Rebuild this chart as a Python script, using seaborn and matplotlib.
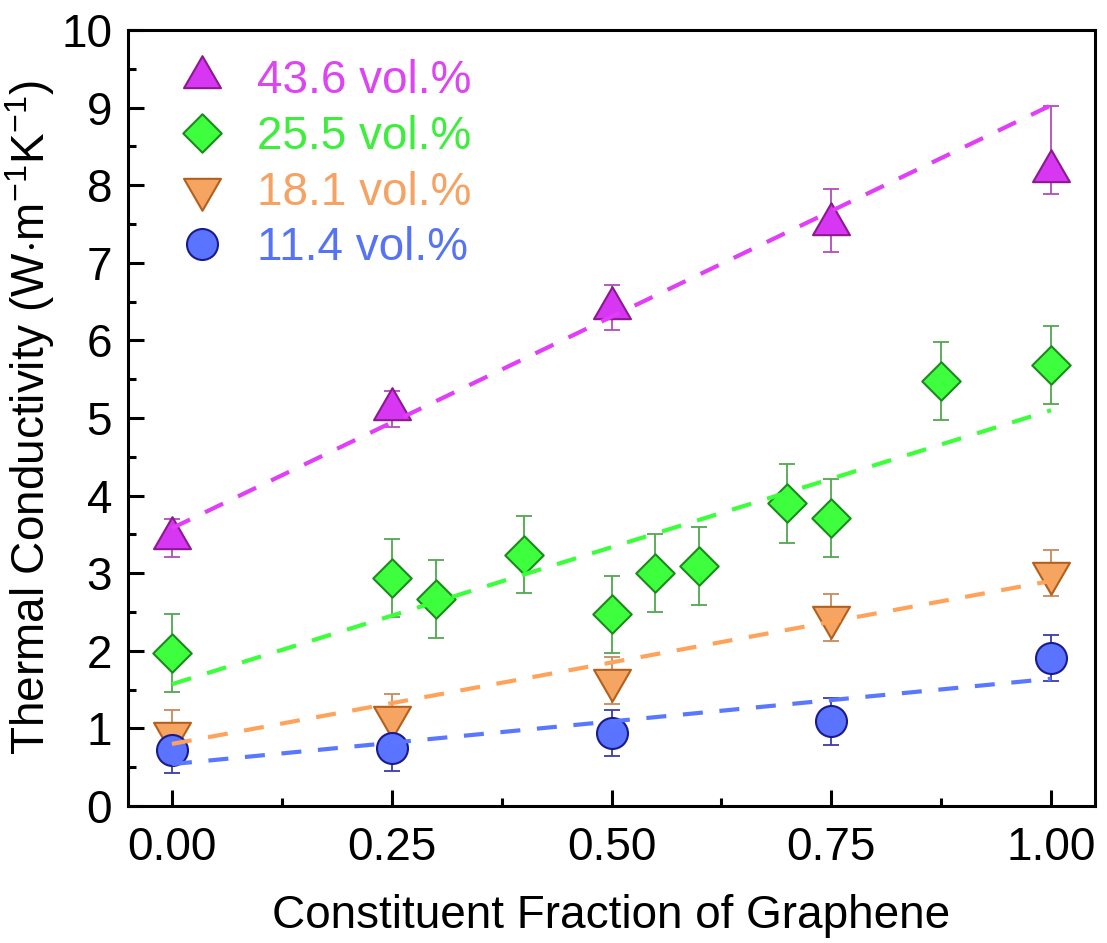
import numpy as np
import matplotlib
matplotlib.use("Agg")
import matplotlib.pyplot as plt
from matplotlib.path import Path
from matplotlib.markers import MarkerStyle
from matplotlib.ticker import FixedLocator, MultipleLocator
import seaborn as sns

# ---------------- data ----------------
series_labels = ["43.6 vol.%", "25.5 vol.%", "18.1 vol.%", "11.4 vol.%"]

x_436 = [0.00, 0.25, 0.50, 0.75, 1.00]
y_436 = [3.45, 5.12, 6.42, 7.50, 8.18]
lo_436 = [0.24, 0.24, 0.29, 0.36, 0.29]
hi_436 = [0.25, 0.23, 0.29, 0.45, 0.84]

x_255 = [0.00, 0.25, 0.30, 0.40, 0.50, 0.55, 0.60, 0.70, 0.75, 0.875, 1.00]
y_255 = [1.97, 2.94, 2.67, 3.24, 2.47, 3.00, 3.09, 3.90, 3.71, 5.48, 5.68]
err_255 = [0.50, 0.50, 0.50, 0.50, 0.50, 0.50, 0.50, 0.51, 0.50, 0.50, 0.50]

x_181 = [0.00, 0.25, 0.50, 0.75, 1.00]
y_181 = [0.94, 1.15, 1.62, 2.43, 3.00]
err_181 = [0.30, 0.29, 0.30, 0.30, 0.30]

x_114 = [0.00, 0.25, 0.50, 0.75, 1.00]
y_114 = [0.72, 0.75, 0.94, 1.09, 1.91]
err_114 = [0.30, 0.30, 0.30, 0.30, 0.30]

fit_x = [0.0, 1.0]
fit_436 = [3.58, 9.03]
fit_255 = [1.57, 5.10]
fit_181 = [0.80, 2.90]
fit_114 = [0.54, 1.64]

xtick_vals = [0.00, 0.25, 0.50, 0.75, 1.00]
xtick_labels = ["0.00", "0.25", "0.50", "0.75", "1.00"]
ytick_vals = [0, 1, 2, 3, 4, 5, 6, 7, 8, 9, 10]
ytick_labels = ["0", "1", "2", "3", "4", "5", "6", "7", "8", "9", "10"]

# ---------------- style ----------------
sns.set_theme(style="ticks")
plt.rcParams["font.family"] = ["Liberation Sans", "DejaVu Sans"]
plt.rcParams["mathtext.fontset"] = "custom"
plt.rcParams["mathtext.rm"] = "Liberation Sans"
plt.rcParams["axes.edgecolor"] = "black"
plt.rcParams["axes.linewidth"] = 2.2

FS = 33

# markers
tri_up = MarkerStyle(Path([(0, 0.577), (-0.5, -0.289), (0.5, -0.289), (0, 0.577)], closed=True))
tri_dn = MarkerStyle(Path([(0, -0.577), (0.5, 0.289), (-0.5, 0.289), (0, -0.577)], closed=True))
diamond = MarkerStyle(Path([(0, 1), (1, 0), (0, -1), (-1, 0), (0, 1)], closed=True))

fig = plt.figure(figsize=(11.07, 9.43), dpi=100)
ax = fig.add_axes([0.11563, 0.14528, 0.87353, 0.82291])

specs = [
    # x, y, lo, hi, marker, size, fill, edge, ecolor, fit, linecolor, textcolor
    (x_436, y_436, lo_436, hi_436, tri_up, 30.7 ** 2, "#D736F2", "#8A1A8E", "#B24CBA", fit_436, "#E23DF8", "#DD44F2"),
    (x_255, y_255, err_255, err_255, diamond, 27.7 ** 2, "#3DFF3D", "#1E8A1E", "#4FA84F", fit_255, "#3CFF3C", "#3DEE3D"),
    (x_181, y_181, err_181, err_181, tri_dn, 30.7 ** 2, "#F5A462", "#B3601E", "#C98A5E", fit_181, "#FFA35A", "#F5A262"),
    (x_114, y_114, err_114, err_114, "o", 22.3 ** 2, "#5A74FF", "#1A1A8F", "#3A3AAE", fit_114, "#5A78FF", "#5673F5"),
]

handles = []
text_colors = []
for (xs, ys, lo, hi, mk, sz, fill, edge, ecol, fit, lcol, tcol), lab in zip(specs, series_labels):
    ax.errorbar(xs, ys, yerr=[lo, hi], fmt="none", ecolor=ecol, elinewidth=1.3,
                capsize=5.5, capthick=1.3, zorder=2)
    sns.scatterplot(x=xs, y=ys, ax=ax, marker=mk, s=sz, color=fill, edgecolor=edge,
                    linewidth=1.5, zorder=3, label=lab, legend=False)
    handles.append(ax.collections[-1])
    text_colors.append(tcol)

for (xs, ys, lo, hi, mk, sz, fill, edge, ecol, fit, lcol, tcol) in specs:
    sns.lineplot(x=fit_x, y=fit, ax=ax, color=lcol, linewidth=3.0, zorder=4)
    ax.lines[-1].set_dashes((4.8, 4.0))

ax.set_xlim(-0.05, 1.05)
ax.set_ylim(0, 10)
ax.xaxis.set_major_locator(FixedLocator(xtick_vals))
ax.set_xticklabels(xtick_labels)
ax.xaxis.set_minor_locator(MultipleLocator(0.125))
ax.yaxis.set_major_locator(FixedLocator(ytick_vals))
ax.set_yticklabels(ytick_labels)
ax.yaxis.set_minor_locator(MultipleLocator(0.5))

ax.tick_params(which="both", direction="in", width=2.2, color="black",
               top=False, right=False, labelcolor="black")
ax.tick_params(which="major", length=11.5, labelsize=FS)
ax.tick_params(which="minor", length=5.8)
ax.tick_params(axis="x", which="major", pad=14.5)
ax.tick_params(axis="y", which="major", pad=11.5)

for sp in ax.spines.values():
    sp.set_visible(True)
    sp.set_linewidth(2.2)
    sp.set_color("black")

ax.set_xlabel("Constituent Fraction of Graphene", fontsize=FS, color="black", labelpad=17)
ax.set_ylabel(r"Thermal Conductivity (W$\cdot$m$\mathregular{^{-1}}$K$\mathregular{^{-1}}$)",
              fontsize=FS, color="black", labelpad=3)
ax.grid(False)

ax.legend(handles, series_labels, loc="upper left", bbox_to_anchor=(0.048, 0.963),
          frameon=False, fontsize=FS, handlelength=1.2, handletextpad=0.6,
          labelspacing=0.26, borderpad=0, borderaxespad=0, scatterpoints=1,
          scatteryoffsets=[0.5], labelcolor=text_colors)

fig.savefig("out.png", dpi=100)
